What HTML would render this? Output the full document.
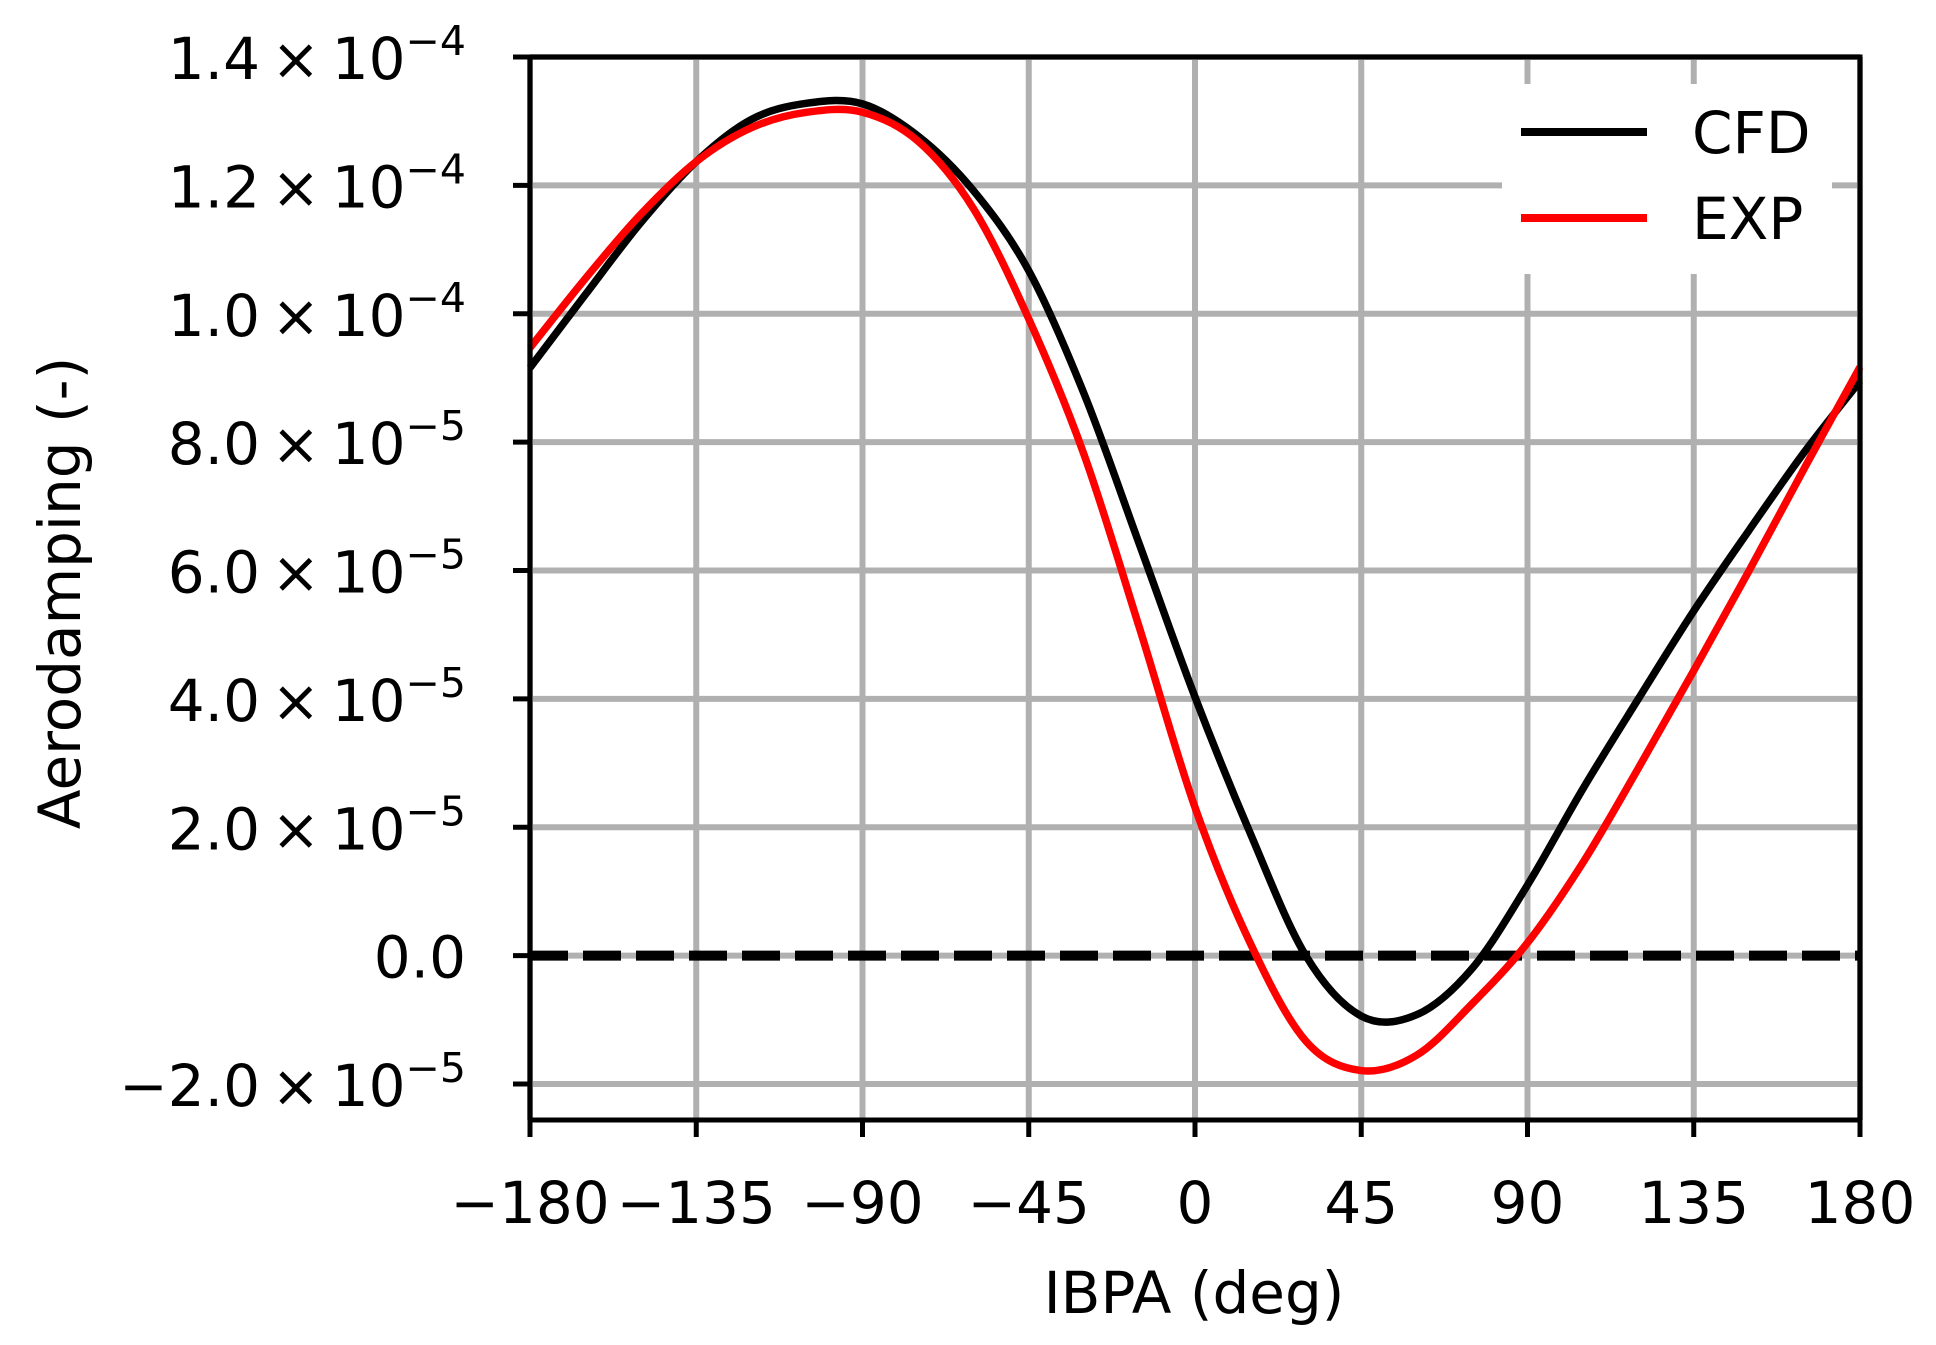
<!DOCTYPE html>
<html><head><meta charset="utf-8">
<style>
html,body{margin:0;padding:0;background:#fff;}
svg{display:block;font-family:"DejaVu Sans","Liberation Sans",sans-serif;}
</style></head>
<body>
<svg id="chart" width="1936" height="1345" viewBox="0 0 1936 1345" xmlns="http://www.w3.org/2000/svg">
<rect x="0" y="0" width="1936" height="1345" fill="#fff"/>
<g id="grid"></g>
<g id="series"></g>
<g id="axes"></g>
<g id="legend"></g>
</svg>
<script>
const xValues = [-180,-165,-150,-135,-120,-105,-90,-75,-60,-45,-30,-15,0,15,30,45,60,75,90,105,120,135,150,165,180];
const cfdValues = [9.16,10.3,11.42,12.37,13.03,13.28,13.27,12.77,11.92,10.67,8.75,6.4,4.03,1.9,0.0,-0.94,-0.92,-0.2,1.1,2.6,4.0,5.37,6.63,7.85,8.95];
const expValues = [9.47,10.55,11.55,12.37,12.9,13.14,13.14,12.69,11.64,9.92,7.8,5.1,2.31,0.19,-1.33,-1.79,-1.55,-0.75,0.2,1.45,2.92,4.44,6.0,7.6,9.17];
const xTicks = [-180,-135,-90,-45,0,45,90,135,180];
const xTickLabels = ["\u2212180","\u2212135","\u221290","\u221245","0","45","90","135","180"];
const yTicks = [-2,0,2,4,6,8,10,12,14];
const yTickMant = ["\u22122.0","0.0","2.0","4.0","6.0","8.0","1.0","1.2","1.4"];
const yTickExp = ["\u22125","","\u22125","\u22125","\u22125","\u22125","\u22124","\u22124","\u22124"];

const NS="http://www.w3.org/2000/svg";
const L=530,R=1860,T=57,B=1120;
const X0=-180,X1=180,Y0=-2.56,Y1=14.0;
function sx(v){return L+(v-X0)/(X1-X0)*(R-L);}
function sy(v){return B-(v-Y0)/(Y1-Y0)*(B-T);}
function mk(tag,attrs,parent){const e=document.createElementNS(NS,tag);for(const k in attrs)e.setAttribute(k,attrs[k]);parent.appendChild(e);return e;}

const grid=document.getElementById('grid');
xTicks.forEach(v=>{const l=mk('line',{x1:sx(v),x2:sx(v),y1:T,y2:B,stroke:'#b0b0b0','stroke-width':6},grid);

});
yTicks.forEach(v=>{const l=mk('line',{x1:L,x2:R,y1:sy(v),y2:sy(v),stroke:'#b0b0b0','stroke-width':6},grid);

});

const series=document.getElementById('series');
const zl=mk('line',{x1:L,x2:R,y1:sy(0),y2:sy(0),stroke:'#000','stroke-width':10,'stroke-dasharray':'38,15'},series);



function smoothPath(xs,ys){
  const p=xs.map((x,i)=>[sx(x),sy(ys[i])]);
  let d='M'+p[0][0]+','+p[0][1];
  for(let i=0;i<p.length-1;i++){
    const p0=p[Math.max(0,i-1)],p1=p[i],p2=p[i+1],p3=p[Math.min(p.length-1,i+2)];
    const c1=[p1[0]+(p2[0]-p0[0])/6,p1[1]+(p2[1]-p0[1])/6];
    const c2=[p2[0]-(p3[0]-p1[0])/6,p2[1]-(p3[1]-p1[1])/6];
    d+=' C'+c1[0]+','+c1[1]+' '+c2[0]+','+c2[1]+' '+p2[0]+','+p2[1];
  }
  return d;
}
const cfd=mk('path',{d:smoothPath(xValues,cfdValues),fill:'none',stroke:'#000','stroke-width':7.5,'stroke-linejoin':'round'},series);


const exp=mk('path',{d:smoothPath(xValues,expValues),fill:'none',stroke:'#ff0000','stroke-width':7.5,'stroke-linejoin':'round'},series);



const axes=document.getElementById('axes');
const frame=mk('rect',{x:L,y:T,width:R-L,height:B-T,fill:'none',stroke:'#000','stroke-width':5},axes);


xTicks.forEach((v,i)=>{
  const t=mk('line',{x1:sx(v),x2:sx(v),y1:B,y2:B+17,stroke:'#000','stroke-width':5},axes);
  
  
  const tx=mk('text',{x:sx(v),y:1223,'text-anchor':'middle','font-size':58,fill:'#000'},axes);
  tx.textContent=xTickLabels[i];
  
  
});
yTicks.forEach((v,i)=>{
  const t=mk('line',{x1:L-17,x2:L,y1:sy(v),y2:sy(v),stroke:'#000','stroke-width':5},axes);
  
  
  const tx=mk('text',{x:466,y:sy(v)+22,'text-anchor':'end','font-size':58,fill:'#000'},axes);
  
  
  if(yTickExp[i]){
    const a=mk('tspan',{},tx);a.textContent=yTickMant[i]+'\u2009\u00d7\u200910';
    const b=mk('tspan',{'font-size':41,dy:-24},tx);b.textContent=yTickExp[i];
  } else tx.textContent=yTickMant[i];
});
const xl=mk('text',{x:1194,y:1313,'text-anchor':'middle','font-size':58,fill:'#000'},axes);
xl.textContent='IBPA (deg)';


const yl=mk('text',{x:0,y:0,'text-anchor':'middle','font-size':58,fill:'#000',transform:'translate(80,593) rotate(-90)'},axes);
yl.textContent='Aerodamping (-)';



const leg=document.getElementById('legend');
const box=mk('rect',{x:1502,y:84,width:330,height:190,fill:'#fff',stroke:'none'},leg);


[['CFD','#000',132,153],['EXP','#ff0000',218,239]].forEach(e=>{
  const g=mk('g',{},leg);
  
  
  mk('line',{x1:1521,x2:1647,y1:e[2],y2:e[2],stroke:e[1],'stroke-width':8},g);
  const t=mk('text',{x:1692,y:e[3],'font-size':58,fill:'#000'},g);t.textContent=e[0];
});
</script>
</body></html>
